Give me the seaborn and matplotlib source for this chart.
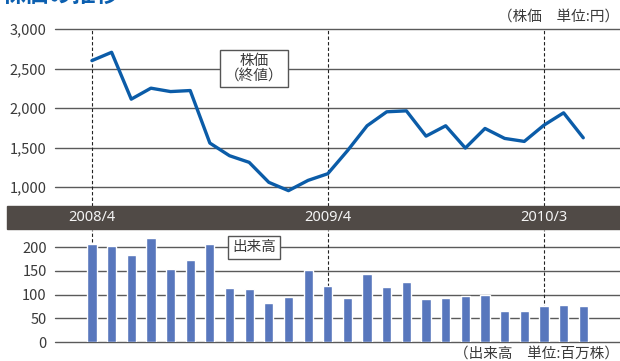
import matplotlib
matplotlib.use("Agg")
import matplotlib.pyplot as plt
import matplotlib.transforms as mtransforms
from matplotlib.patches import Rectangle
import seaborn as sns
import pandas as pd

# ---- data ----
months = ["2008/4", "2008/5", "2008/6", "2008/7", "2008/8", "2008/9", "2008/10",
          "2008/11", "2008/12", "2009/1", "2009/2", "2009/3", "2009/4", "2009/5",
          "2009/6", "2009/7", "2009/8", "2009/9", "2009/10", "2009/11", "2009/12",
          "2010/1", "2010/2", "2010/3", "2010/4", "2010/5"]
price = [2600, 2705, 2112, 2251, 2208, 2221, 1556, 1396, 1312, 1059, 954, 1084, 1168,
         1459, 1775, 1952, 1964, 1644, 1775, 1493, 1741, 1615, 1577, 1783, 1939, 1623]
volume = [207, 203, 184, 220, 154, 173, 207, 114, 112, 82, 95, 152, 118,
          93, 144, 116, 127, 91, 93, 97, 100, 66, 66, 76, 78, 76]
band_labels = ["2008/4", "2009/4", "2010/3"]
price_ticks = [1000, 1500, 2000, 2500, 3000]
volume_ticks = [0, 50, 100, 150, 200]

title = "株価の推移"
price_unit = "（株価　単位:円）"
volume_unit = "（出来高　単位:百万株）"
price_label = "株価\n（終値）"
volume_label = "出来高"

df = pd.DataFrame({"month": months, "idx": range(len(months)),
                   "price": price, "volume": volume})

sns.set_theme(style="white")
plt.rcParams["font.family"] = ["Noto Sans CJK JP", "DejaVu Sans"]

W, H = 620, 361
fig = plt.figure(figsize=(W / 100, H / 100), dpi=100)

def fx(px):
    return px / W

def fy(py):
    return 1 - py / H

LINE_C = "#0b5ca8"
BAR_C = "#5877bd"
BAND_C = "#504a46"
GRID_C = "#5a5a5a"
TXT_C = "#3a3a3a"
XL = (-1.88, 26.87)

# top axes (price)
ax1 = fig.add_axes([fx(55), fy(206), fx(620 - 55), (206 - 29) / H])
# bottom axes (volume)
ax2 = fig.add_axes([fx(55), fy(342), fx(620 - 55), (342 - 230) / H])

for ax in (ax1, ax2):
    for s in ax.spines.values():
        s.set_visible(False)
    ax.set_xlim(*XL)
    ax.set_xticks([])
    ax.set_xlabel("")
    ax.set_ylabel("")
    ax.tick_params(axis="y", length=0, pad=6, labelsize=10.5, labelcolor=TXT_C)

band_idx = [months.index(m) for m in band_labels]

# price
ax1.set_ylim(759.5, 3000)
ax1.set_yticks(price_ticks)
ax1.set_yticklabels([f"{v:,}" for v in price_ticks])
for v in price_ticks:
    ax1.axhline(v, color=GRID_C, lw=1.0, zorder=1, clip_on=False)
for i in band_idx:
    ax1.axvline(i, color="#222222", lw=0.8, ls=(0, (3, 2)), zorder=2)
sns.lineplot(data=df, x="idx", y="price", ax=ax1, color=LINE_C, lw=2.4, zorder=3)
ax1.set_xlim(*XL)
ax1.set_xlabel("")
ax1.set_ylabel("")

# volume
ax2.set_ylim(0, 236.5)
for v in volume_ticks:
    ax2.axhline(v, color=GRID_C, lw=1.0, zorder=1, clip_on=False)
for i in band_idx:
    ax2.axvline(i, color="#222222", lw=0.8, ls=(0, (3, 2)), zorder=2)
sns.barplot(data=df, x="idx", y="volume", ax=ax2, color=BAR_C, width=0.47,
            saturation=1, zorder=3)
ax2.set_xlim(*XL)
ax2.set_yticks(volume_ticks)
ax2.set_yticklabels([str(v) for v in volume_ticks])
ax2.set_xticks([])
ax2.set_xlabel("")
ax2.set_ylabel("")

# dark band with dates
fig.patches.append(Rectangle((fx(7), fy(229)), fx(613), 23 / H,
                             transform=fig.transFigure, color=BAND_C, zorder=0))
trans = mtransforms.blended_transform_factory(ax2.transData, fig.transFigure)
for i, lab in zip(band_idx, band_labels):
    fig.text(i, fy(217.5), lab, transform=trans, ha="center", va="center",
             color="#f4f4f4", fontsize=10.5, family=["Noto Sans", "DejaVu Sans"])

# boxed labels
box = dict(boxstyle="square,pad=0.3", fc="white", ec="#555555", lw=1.0)
ax1.text(8.25, 2500, price_label, ha="center", va="center", fontsize=10.5,
         color=TXT_C, bbox=box, zorder=5, linespacing=1.1)
ax2.text(8.25, 200, volume_label, ha="center", va="center", fontsize=10.5,
         color=TXT_C, bbox=box, zorder=5)

# title (partially cut at top, as in the reference) and units
fig.text(fx(2), fy(2), title, ha="left", va="baseline", fontsize=17,
         fontweight="bold", color="#0b5fb0")
fig.text(fx(619), fy(16.5), price_unit, ha="right", va="center",
         fontsize=10.5, color=TXT_C)
fig.text(fx(619), fy(354), volume_unit, ha="right", va="center",
         fontsize=10.5, color=TXT_C)

fig.savefig("out.png", dpi=100)
